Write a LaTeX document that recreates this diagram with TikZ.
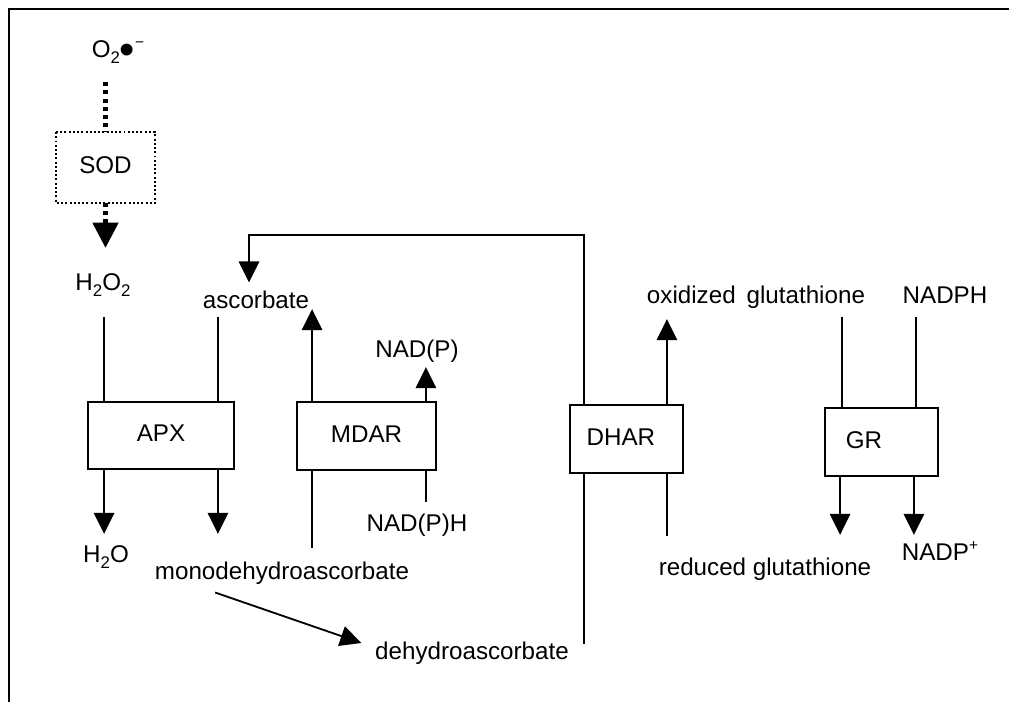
\documentclass[tikz,border=0pt]{standalone}
\usepackage{fontspec}
\setmainfont{Liberation Sans}
\usetikzlibrary{arrows.meta,calc}
\newcommand{\lowidx}[1]{\raisebox{-4.5pt}{\fontsize{12}{12}\selectfont #1}}
\newcommand{\highidx}[1]{\raisebox{7pt}{\fontsize{11}{11}\selectfont #1}}

\begin{document}
\begin{tikzpicture}[x=0.025cm, y=-0.025cm,
  font=\fontsize{17.2}{20}\selectfont,
  lbl/.style={inner sep=0pt, text height=12.4pt, text depth=3.6pt},
  enz/.style={draw, line width=1.3pt, inner sep=0pt, text height=12.4pt, text depth=3.6pt,
              minimum height=1.7cm},
  ln/.style={line width=1.3pt},
  arr/.style={line width=1.3pt, -{Triangle[length=15pt, width=14.5pt]}},
  dots/.style={line width=2.9pt, dash pattern=on 2.9pt off 2.9pt},
]
\useasboundingbox (0,0) rectangle (1009,702);

% ------------------------------------------------------------------ frame
\draw[line width=2pt] (9,702) -- (9,9) -- (1009,9);

% ------------------------------------------------------------------ species
\node[lbl] (o2)    at (118,51)  {O\lowidx{2}\raisebox{-5pt}{\fontsize{31}{31}\selectfont •}\highidx{−}};
\node[lbl] (h2o2)  at (103,284) {H\lowidx{2}O\lowidx{2}};
\node[lbl] (asc)   at (256,302) {ascorbate};
\node[lbl] (nadp)  at (417,351) {NAD(P)};
\node[lbl] (oxg)   at (756,297) {oxidized\hspace{3pt} glutathione};
\node[lbl] (nadph) at (945,297) {NADPH};
\node[lbl] (h2o)   at (106,556) {H\lowidx{2}O};
\node[lbl] (nadh)  at (417,525) {NAD(P)H};
\node[lbl] (mdha)  at (282,573) {monodehydroascorbate};
\node[lbl] (dha)   at (472,653) {dehydroascorbate};
\node[lbl] (redg)  at (765,569) {reduced glutathione};
\node[lbl] (nadpp) at (940,554) {NADP\highidx{+}};

% ------------------------------------------------------------------ enzymes
\node[enz, draw=none, minimum width=2.425cm, minimum height=1.725cm] (sod) at (105.5,167.5) {SOD};
\draw[line width=1.4pt, dash pattern=on 1.4pt off 1.6pt] (sod.north west) rectangle (sod.south east);
\node[enz, minimum width=3.65cm, minimum height=1.675cm] (apx)  at (161,435.5) {APX};
\node[enz, minimum width=3.475cm] (mdar) at (366.5,436) {MDAR};
\node[enz, minimum width=2.825cm] (dhar) at (626.5,439) {DHAR\hspace{8pt}\mbox{}};
\node[enz, minimum width=2.825cm] (gr)   at (881.5,442) {GR\hspace{25pt}\mbox{}};

% ------------------------------------------------------------------ superoxide
\draw[dots, shorten <=14pt] (o2.south -| sod.north) -- (sod.north);
\draw[dots, -{Triangle[length=18pt, width=18pt]}, shorten >=17.5pt] (sod.south) -- (sod.south |- h2o2.north);

% ------------------------------------------------------------------ APX
\draw[ln] ($(apx.north west)+(17,0)$) -- ++(0,-84);
\draw[ln] ($(apx.north east)+(-17,0)$) -- ++(0,-84);
\draw[arr] ($(apx.south west)+(17,0)$) -- ++(0,64);
\draw[arr] ($(apx.south east)+(-17,0)$) -- ++(0,64);

% ------------------------------------------------------------------ MDAR
\draw[arr] ($(mdar.north west)+(16,0)$) -- ++(0,-92);
\draw[arr] ($(mdar.north east)+(-11,0)$) -- ++(0,-34);
\draw[ln] ($(mdar.south west)+(16,0)$) -- ++(0,77);
\draw[ln] ($(mdar.south east)+(-11,0)$) -- ++(0,31);
\draw[arr] ($(mdha.south west)+(60.5,8)$) -- ($(dha.west)+(-13.5,-10)$);

% ------------------------------------------------------------------ DHAR
% the ascorbate it makes goes back round to APX
\draw[arr] ($(dhar.north west)+(15,0)$) -- ++(0,-169) -| ($(asc.north)+(-7,-8)$);
\draw[arr] ($(dhar.north east)+(-17,0)$) -- ++(0,-85);
\draw[ln] ($(dhar.south west)+(15,0)$) -- ++(0,170);
\draw[ln] ($(dhar.south east)+(-17,0)$) -- ++(0,62);

% ------------------------------------------------------------------ GR
\draw[ln] ($(gr.north west)+(18,0)$) -- ++(0,-90);
\draw[ln] ($(gr.north east)+(-23,0)$) -- ++(0,-90);
\draw[arr] ($(gr.south west)+(16,0)$) -- ++(0,58);
\draw[arr] ($(gr.south east)+(-25,0)$) -- ++(0,58);
\end{tikzpicture}
\end{document}
